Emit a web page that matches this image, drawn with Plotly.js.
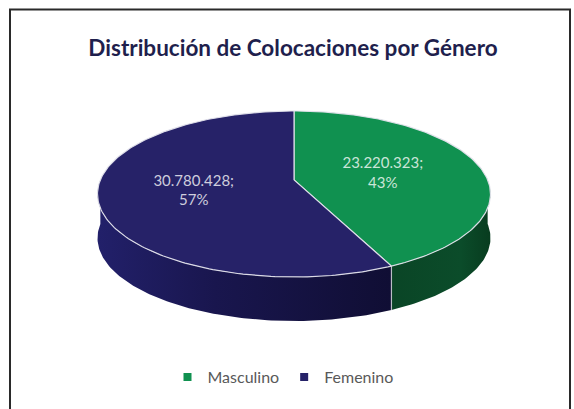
<!DOCTYPE html>
<html>
<head>
<meta charset="utf-8">
<script src="https://cdn.plot.ly/plotly-3.0.1.min.js"></script>
<style>
  html, body { margin: 0; padding: 0; background: #ffffff; }
  #chart { width: 574px; height: 409px; }
</style>
</head>
<body>
<div id="chart"></div>
<script>
// ---- data ----
const categories = ['Masculino', 'Femenino'];
const values = [23220323, 30780428];

// ---- styles ----
const topColors = ['#109150', '#262268'];
const sideScales = [
  [[0, '#0A4526'], [0.7, '#0B4C2A'], [1, '#083C1F']],
  [[0, '#22206A'], [0.4, '#19164E'], [1, '#100E34']]
];
const labelColor = 'rgba(255,255,255,0.78)';
const edgeColor = 'rgba(225,225,235,0.95)';

// ---- 3D pie projection (layout constants, pixel space) ----
const CX = 294, CYE = 194, A = 196.5, B = 83, BETA = -0.17, DEPTH_PX = 44;
const SQ = Math.sqrt(1 - BETA * BETA);

function proj(thetaDeg, r, down) {
  const t = thetaDeg * Math.PI / 180;
  const p = r * Math.sin(t), q = -r * Math.cos(t);
  const den = 1 + BETA * q;
  const u = p * SQ / den, v = (q + BETA) / den;
  return [CX + A * u, CYE + B * v + (down || 0)];
}
function arc(a0, a1, r, down) {
  const pts = [];
  const n = Math.max(2, Math.ceil(Math.abs(a1 - a0)));
  for (let i = 0; i <= n; i++) pts.push(proj(a0 + (a1 - a0) * i / n, r, down));
  return pts;
}
function fmt(v) { return String(v).replace(/\B(?=(\d{3})+(?!\d))/g, '.'); }

const total = values.reduce((a, b) => a + b, 0);
const starts = [], ends = [];
let acc = 0;
values.forEach(v => { starts.push(acc / total * 360); acc += v; ends.push(acc / total * 360); });

const traces = [];
// side faces (front half only)
values.forEach((v, i) => {
  const lo = Math.max(starts[i], 90), hi = Math.min(ends[i], 270);
  if (lo >= hi) return;
  const pts = arc(lo, hi, 1, 0).concat(arc(hi, lo, 1, DEPTH_PX));
  pts.push(pts[0]);
  traces.push({
    type: 'scatter', mode: 'lines', fill: 'toself',
    x: pts.map(p => p[0]), y: pts.map(p => p[1]),
    line: { width: 0, color: 'rgba(0,0,0,0)' },
    fillgradient: { type: 'horizontal', colorscale: sideScales[i] },
    fillcolor: topColors[i],
    showlegend: false, hoverinfo: 'skip'
  });
});
// vertical edges on the side at slice boundaries in the front half
values.forEach((v, i) => {
  const a = ends[i] % 360;
  if (a > 90 && a < 270) {
    const p0 = proj(a, 1, 0), p1 = proj(a, 1, DEPTH_PX);
    traces.push({
      type: 'scatter', mode: 'lines', x: [p0[0], p1[0]], y: [p0[1], p1[1]],
      line: { width: 1.2, color: 'rgba(200,200,210,0.9)' },
      showlegend: false, hoverinfo: 'skip'
    });
  }
});
// top faces
values.forEach((v, i) => {
  const c = proj(0, 0, 0);
  const pts = [c].concat(arc(starts[i], ends[i], 1, 0));
  pts.push(c);
  traces.push({
    type: 'scatter', mode: 'lines', fill: 'toself',
    x: pts.map(p => p[0]), y: pts.map(p => p[1]),
    line: { width: 1.2, color: edgeColor },
    fillcolor: topColors[i],
    showlegend: false, hoverinfo: 'skip'
  });
});
// labels
values.forEach((v, i) => {
  const mid = (starts[i] + ends[i]) / 2;
  const p = proj(mid, 0.5, 0);
  traces.push({
    type: 'scatter', mode: 'text', x: [p[0] - 4], y: [p[1] + 3],
    text: [fmt(v) + ';<br>' + Math.round(v / total * 100) + '%'],
    textposition: 'middle center',
    textfont: { family: 'Lato, sans-serif', size: 15, color: labelColor },
    showlegend: false, hoverinfo: 'skip'
  });
});
// legend entries
categories.forEach((name, i) => {
  traces.push({
    type: 'scatter', mode: 'markers', x: [null], y: [null], name: name,
    marker: { symbol: 'square', size: 8, color: topColors[i] },
    showlegend: true
  });
});

const layout = {
  width: 574, height: 409,
  margin: { l: 0, r: 0, t: 0, b: 0 },
  paper_bgcolor: '#ffffff', plot_bgcolor: '#ffffff',
  title: {
    text: 'Distribución de Colocaciones por Género',
    x: 293 / 574, xanchor: 'center', y: 1 - 48 / 409, yanchor: 'middle', yref: 'container',
    font: { family: 'Lato, sans-serif', size: 22.5, weight: 'bold', color: '#1F1F4D' }
  },
  xaxis: { range: [0, 574], visible: false, fixedrange: true },
  yaxis: { range: [409, 0], visible: false, fixedrange: true },
  showlegend: true,
  legend: {
    orientation: 'h', x: 283 / 574, xanchor: 'center', y: 1 - 377 / 409, yanchor: 'middle',
    font: { family: 'Lato, sans-serif', size: 16, color: '#595959' },
    bgcolor: 'rgba(0,0,0,0)', itemwidth: 30
  },
  hovermode: false,
  shapes: [{
    type: 'rect', xref: 'paper', yref: 'paper',
    x0: 10 / 574, x1: 570 / 574, y0: -0.2, y1: 1 - 9.5 / 409,
    line: { color: '#2A2A2A', width: 2 }, fillcolor: 'rgba(0,0,0,0)', layer: 'below'
  }]
};

Plotly.newPlot('chart', traces, layout, { displayModeBar: false, staticPlot: true });
</script>
</body>
</html>
